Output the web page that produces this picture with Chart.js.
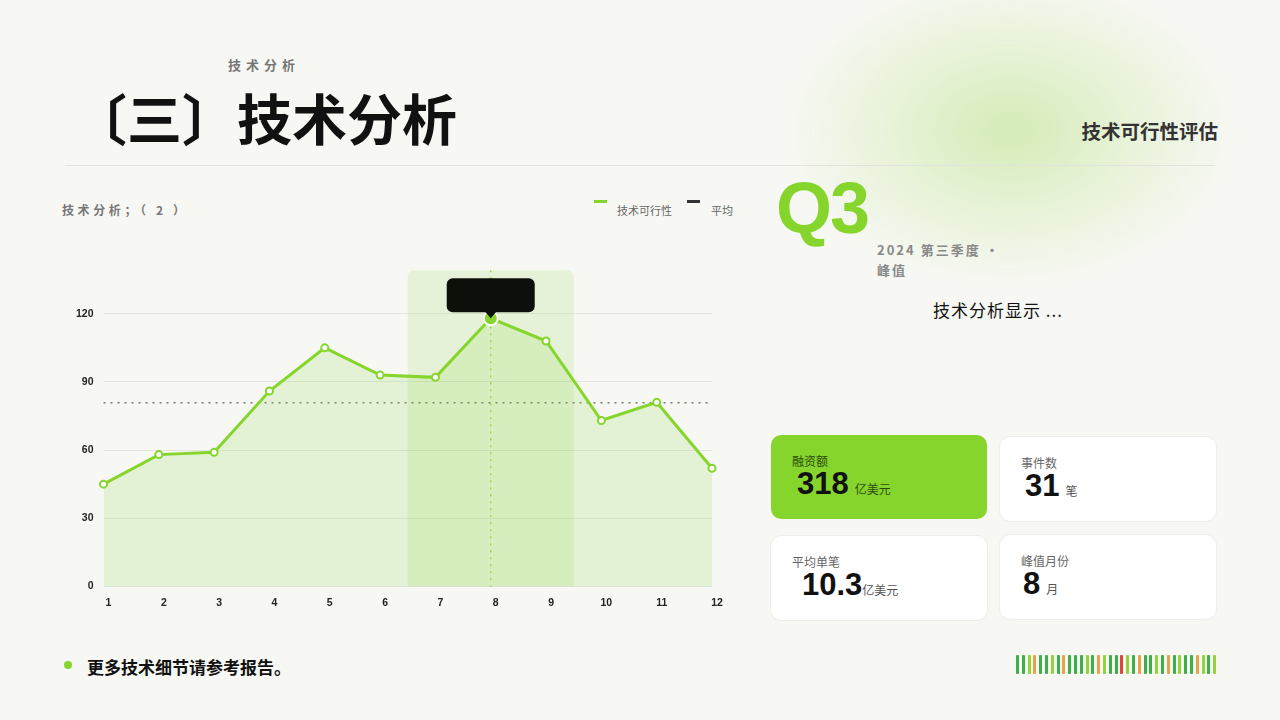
<!DOCTYPE html>
<html lang="zh-CN">
<head>
<meta charset="utf-8">
<title>技术分析</title>
<script src="https://cdn.jsdelivr.net/npm/chart.js@4.4.1/dist/chart.umd.min.js"></script>
<style>
  html, body { margin: 0; padding: 0; }
  body {
    width: 1280px; height: 720px; overflow: hidden; position: relative;
    background: #f7f8f3;
    font-family: "Noto Sans CJK SC", "Noto Sans", sans-serif;
    color: #111;
  }
  .glow {
    position: absolute; left: 790px; top: -20px; width: 440px; height: 300px;
    border-radius: 50%;
    background: radial-gradient(ellipse at center, rgba(170,220,110,0.45) 0%, rgba(190,228,140,0.25) 40%, rgba(247,248,243,0) 72%);
    filter: blur(10px);
  }
  .kicker { position: absolute; left: 228px; top: 55px; font-size: 13px; font-weight: 700; color: #777; letter-spacing: 5px; }
  .title { position: absolute; left: 72px; top: 76px; font-size: 55px; font-weight: 700; color: #111; }
  .rtitle { position: absolute; right: 62px; top: 116px; font-size: 19.5px; font-weight: 700; color: #333; }
  .rule { position: absolute; left: 65px; top: 165px; width: 1150px; height: 1px; background: #e2e3de; }
  .sub { position: absolute; left: 62px; top: 201px; font-size: 12px; font-weight: 700; color: #777; letter-spacing: 3.6px; }
  .legend { position: absolute; top: 200px; font-size: 11px; color: #666; }
  .legend i { position: absolute; width: 13px; height: 3px; top: 0; }
  .legend span { position: absolute; top: 2px; white-space: nowrap; }
  #wrap { position: absolute; left: 66px; top: 252px; width: 662px; height: 359px; }
  .q3 { position: absolute; left: 776px; top: 167px; font-family: "Liberation Sans", Arial, sans-serif; font-weight: 700; font-size: 72px; color: #86d52c; letter-spacing: -2px; }
  .period { position: absolute; left: 877px; top: 240px; width: 140px; font-size: 13px; font-weight: 700; color: #888; letter-spacing: 2px; line-height: 20px; }
  .note { position: absolute; left: 933px; top: 297px; font-size: 17px; color: #111; letter-spacing: 1px; }
  .card { position: absolute; width: 216px; height: 84px; border-radius: 10px; background: #fff; box-shadow: 0 0 0 1px #efefea; }
  .card.hot { background: #86d52c; box-shadow: none; }
  .card .lb { position: absolute; left: 21px; top: 17px; font-size: 12px; color: #666; }
  .card.hot .lb { color: #2d4a0c; }
  .card .val { position: absolute; top: 31px; font-family: "Liberation Sans", Arial, sans-serif; font-weight: 700; font-size: 31px; color: #111; white-space: nowrap; }
  .card .val small { font-family: "Noto Sans CJK SC", sans-serif; font-weight: 400; font-size: 12px; color: #555; margin-left: 6px; }
  .card.hot .val small { color: #2d4a0c; }
  .foot { position: absolute; left: 87px; top: 654px; font-size: 17px; font-weight: 700; color: #111; }
  .dot { position: absolute; left: 64px; top: 661px; width: 8px; height: 8px; border-radius: 50%; background: #86d52c; }
  .bars { position: absolute; left: 1016px; top: 655px; height: 19px; }
  .bars b { position: absolute; top: 0; width: 3px; height: 19px; border-radius: 1px; }
</style>
</head>
<body>
<div class="glow"></div>
<div class="kicker">技术分析</div>
<div class="title">〔三〕技术分析</div>
<div class="rtitle">技术可行性评估</div>
<div class="rule"></div>

<div class="sub">技术分析；（ 2 ）</div>
<div class="legend" style="left:594px"><i style="background:#86d52c"></i><span style="left:23px">技术可行性</span></div>
<div class="legend" style="left:687px"><i style="background:#333"></i><span style="left:24px">平均</span></div>

<div id="wrap"><canvas id="chart"></canvas></div>

<div class="q3">Q3</div>
<div class="period">2024 第三季度 · 峰值</div>
<div class="note">技术分析显示 ...</div>

<div class="card hot" style="left:771px;top:435px"><div class="lb">融资额</div><div class="val" style="left:26px">318<small>亿美元</small></div></div>
<div class="card" style="left:1000px;top:437px"><div class="lb">事件数</div><div class="val" style="left:25px">31<small>笔</small></div></div>
<div class="card" style="left:771px;top:536px"><div class="lb">平均单笔</div><div class="val" style="left:31px">10.3<small style="margin-left:0">亿美元</small></div></div>
<div class="card" style="left:1000px;top:535px"><div class="lb">峰值月份</div><div class="val" style="left:23px">8<small>月</small></div></div>

<div class="dot"></div>
<div class="foot">更多技术细节请参考报告。</div>
<div class="bars" id="bars"></div>

<script>
// chart data
const months = ['1', '2', '3', '4', '5', '6', '7', '8', '9', '10', '11', '12'];
const feasibility = [45, 58, 59, 86, 105, 93, 92, 118, 108, 73, 81, 52];
const avgValue = 80.8;
const yTicks = [0, 30, 60, 90, 120];
const peakIndex = 7;          // month 8
const bandRange = [6, 8];     // months 7..9 (Q3)

const green = '#86d52c';

// decorative strip under the cards
const barColors = ['d','d','l','o','d','d','l','d','o','d','d','d','l','d','o','l','d','d','r','l','d','o','d','d','l','d','o','d','l','d','d','o','l','d','l'];
const palette = { d: '#3fae49', l: '#8fd43a', o: '#eaa24a', r: '#e0443a' };
const barsEl = document.getElementById('bars');
barColors.forEach((c, i) => {
    const b = document.createElement('b');
    b.style.left = (i * 5.8) + 'px';
    b.style.background = palette[c];
    barsEl.appendChild(b);
});

// band, guide line and the peak tooltip box
const highlightPlugin = {
    id: 'highlight',
    beforeDatasetsDraw(chart) {
        const { ctx, chartArea, scales } = chart;
        const x0 = scales.x.getPixelForValue(bandRange[0] - 0.5);
        const x1 = scales.x.getPixelForValue(bandRange[1] + 0.5);
        const top = chartArea.top + 2;
        ctx.save();
        ctx.fillStyle = 'rgba(150, 215, 90, 0.18)';
        ctx.beginPath();
        ctx.roundRect(x0, top, x1 - x0, chartArea.bottom - top, [6, 6, 0, 0]);
        ctx.fill();

        const px = scales.x.getPixelForValue(peakIndex);
        ctx.strokeStyle = 'rgba(134, 213, 44, 0.9)';
        ctx.lineWidth = 1.3;
        ctx.setLineDash([2, 5]);
        ctx.beginPath();
        ctx.moveTo(px, top);
        ctx.lineTo(px, chartArea.bottom);
        ctx.stroke();
        ctx.restore();
    },
    afterDatasetsDraw(chart) {
        const { ctx, scales } = chart;
        const px = scales.x.getPixelForValue(peakIndex);
        const py = scales.y.getPixelForValue(feasibility[peakIndex]);
        const w = 88, h = 34;
        const bx = px - w / 2, by = py - h - 6;
        ctx.save();
        ctx.fillStyle = '#0c0f0a';
        ctx.beginPath();
        ctx.roundRect(bx, by, w, h, 6);
        ctx.fill();
        ctx.beginPath();
        ctx.moveTo(px - 6, by + h - 1);
        ctx.lineTo(px + 6, by + h - 1);
        ctx.lineTo(px, by + h + 6);
        ctx.closePath();
        ctx.fill();
        ctx.restore();
    }
};

const tickFont = { family: "'Liberation Sans', Arial, sans-serif", size: 10.5, weight: 'bold' };

const ctx = document.getElementById('chart').getContext('2d');
new Chart(ctx, {
    type: 'line',
    data: {
        labels: months,
        datasets: [
            {
                label: '技术可行性',
                data: feasibility,
                borderColor: green,
                borderWidth: 3,
                backgroundColor: 'rgba(150, 215, 90, 0.2)',
                fill: 'origin',
                tension: 0,
                pointBackgroundColor: feasibility.map((_, i) => i === peakIndex ? green : '#ffffff'),
                pointBorderColor: feasibility.map((_, i) => i === peakIndex ? '#ffffff' : green),
                pointBorderWidth: 2,
                pointRadius: feasibility.map((_, i) => i === peakIndex ? 7 : 3.5),
                order: 1
            },
            {
                label: '平均',
                data: months.map(() => avgValue),
                borderColor: '#777',
                borderWidth: 1.5,
                borderDash: [2, 5],
                pointRadius: 0,
                fill: false,
                order: 2
            }
        ]
    },
    options: {
        responsive: true,
        maintainAspectRatio: false,
        animation: false,
        layout: { padding: { top: 10, right: 16, left: 0, bottom: 0 } },
        plugins: {
            legend: { display: false },
            tooltip: { enabled: false }
        },
        scales: {
            x: {
                grid: { display: false },
                border: { display: false },
                ticks: {
                    color: '#222',
                    font: tickFont,
                    padding: 2,
                    labelOffset: 5,
                    maxRotation: 0
                }
            },
            y: {
                min: 0,
                max: 140,
                afterBuildTicks: (axis) => { axis.ticks = yTicks.map(v => ({ value: v })); },
                grid: { color: '#e3e4df', drawTicks: false, lineWidth: 1 },
                border: { display: false },
                ticks: {
                    color: '#222',
                    font: tickFont,
                    padding: 10
                }
            }
        }
    },
    plugins: [highlightPlugin]
});
</script>
</body>
</html>
